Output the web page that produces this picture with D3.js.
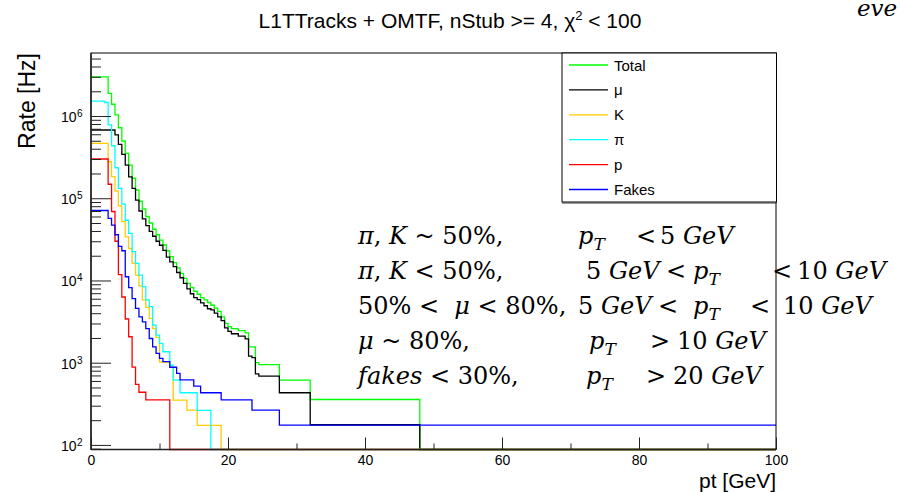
<!DOCTYPE html>
<html>
<head>
<meta charset="utf-8">
<script src="https://cdn.jsdelivr.net/npm/d3@7"></script>
<style>
  html, body { margin: 0; padding: 0; background: #fff; }
  svg { display: block; }
  text { font-family: "Liberation Sans", Arial, Helvetica, sans-serif; fill: #000; }
  .note { font-family: "DejaVu Serif", "Liberation Serif", serif; white-space: pre; }
</style>
</head>
<body>
<svg id="chart" width="901" height="492"></svg>
<script>
// ---- Rate vs pt threshold: lower bin edges (GeV) and rates (Hz) per category ----
const totalEdges = [0, 2.5, 3, 3.5, 4, 4.5, 5, 5.5, 6, 6.5, 7, 7.5, 8, 8.5, 9, 9.5, 10, 10.5, 11, 11.5,
  12, 12.5, 13, 13.5, 14, 14.5, 15, 15.5, 16, 16.5, 17, 17.5, 18, 18.5, 19, 19.5, 20, 20.5, 21.5, 22.5,
  23, 24, 24.5, 27.5, 32, 48];
const totalRates = [3.0e6, 1.89e6, 1.39e6, 1.03e6, 7.2e5, 4.97e5, 3.52e5, 2.53e5, 1.75e5, 1.26e5,
  9.2e4, 7.4e4, 6.0e4, 5.0e4, 4.2e4, 3.6e4, 3.1e4, 2.7e4, 2.3e4, 1.95e4,
  1.65e4, 1.42e4, 1.22e4, 1.06e4, 9.2e3, 8.2e3, 7.4e3, 6.8e3, 6.2e3, 5.8e3,
  5.4e3, 5.0e3, 4.6e3, 4.2e3, 3.6e3, 3.0e3, 2.75e3, 2.6e3, 2.45e3, 2.3e3,
  1.56e3, 1.0e3, 950, 614, 357, 0];

const muonEdges = [0, 3.5, 4, 4.5, 5, 5.5, 6, 6.5, 7, 7.5, 8, 8.5, 9, 9.5, 10, 10.5, 11, 11.5, 12, 12.5,
  13, 13.5, 14, 14.5, 15, 15.5, 16, 16.5, 17, 17.5, 18, 18.5, 19, 19.5, 20, 20.5, 21.5, 22.5, 23, 23.5,
  24, 24.5, 27.5, 32, 48];
const muonRates = [6.76e5, 5.9e5, 4.53e5, 3.42e5, 2.53e5, 1.82e5, 1.32e5, 9.5e4, 7.0e4, 5.6e4,
  4.65e4, 3.95e4, 3.45e4, 3.0e4, 2.68e4, 2.32e4, 1.92e4, 1.68e4, 1.47e4, 1.25e4,
  1.08e4, 9.2e3, 7.9e3, 6.9e3, 6.2e3, 5.85e3, 5.33e3, 4.93e3, 4.53e3, 4.4e3,
  4.0e3, 3.6e3, 3.25e3, 2.65e3, 2.4e3, 2.25e3, 2.1e3, 1.95e3, 1.2e3, 1.15e3,
  730, 687, 431, 176, 0];

const kaonEdges = [0, 2.5, 3, 3.5, 4, 4.5, 5, 5.5, 6, 6.5, 7, 7.5, 8, 8.5, 9, 9.5, 10, 11.5, 12, 14, 15.5, 19];
const kaonRates = [4.65e5, 2.78e5, 1.83e5, 1.22e5, 8.1e4, 5.2e4, 3.4e4, 2.45e4, 1.61e4, 1.16e4,
  8.6e3, 5.8e3, 4.7e3, 3.46e3, 2.6e3, 2.03e3, 1.02e3, 890, 351, 265, 173, 0];

const pionEdges = [0, 2, 2.5, 3, 3.5, 4, 4.5, 5, 5.5, 6, 6.5, 7, 7.5, 8, 8.5, 9, 9.5, 10, 10.5, 11.5,
  12, 13, 15.5, 17.5];
const pionRates = [1.52e6, 1.46e6, 7.8e5, 4.35e5, 2.35e5, 1.32e5, 8.5e4, 5.4e4, 3.74e4, 2.24e4,
  1.61e4, 1.16e4, 8.4e3, 5.8e3, 4.8e3, 2.86e3, 2.17e3, 1.72e3, 1.36e3, 933,
  614, 431, 263, 0];

const protonEdges = [0, 2.5, 3, 3.5, 4, 4.5, 5, 5.5, 6, 6.5, 7, 8, 11.5];
const protonRates = [3.0e5, 1.48e5, 6.9e4, 3.0e4, 1.18e4, 6.3e3, 3.4e3, 2.07e3, 885, 545, 437, 354, 0];

const fakeEdges = [0, 2.5, 3, 3.5, 4, 4.5, 5, 5.5, 6, 6.5, 7, 7.5, 8, 8.5, 9, 9.5, 10, 10.5, 11.5, 12.5,
  13, 15, 16, 19, 23.5, 27.5];
const fakeRates = [7.1e4, 5.7e4, 4.7e4, 3.6e4, 2.6e4, 2.3e4, 1.11e4, 8.2e3, 6.0e3, 4.57e3,
  3.6e3, 3.14e3, 2.6e3, 1.97e3, 1.56e3, 1.3e3, 1.13e3, 1.03e3, 880, 741,
  620, 519, 431, 354, 265, 174];

const legendLabels = ["Total", "μ", "K", "π", "p", "Fakes"];
const xMajorTicks = [0, 20, 40, 60, 80, 100];
const xMinorTicks = [10, 30, 50, 70, 90];
const yMajorExponents = [2, 3, 4, 5, 6];

const titleMain = "L1TTracks + OMTF, nStub >= 4, χ";
const titleSup = "2";
const titleTail = " < 100";
const xTitle = "pt [GeV]";
const yTitle = "Rate [Hz]";
const cornerText = "eve";

// Annotation: one row of text pieces per line ("_X" marks a subscript)
const noteText = [
  ["π, K ~ 50%,", "p_T", "<", "5 GeV"],
  ["π, K < 50%,", "5 GeV", "<", "p_T", "<", "10 GeV"],
  ["50% <  μ < 80%,", "5 GeV", "<", "p_T", "<", "10 GeV"],
  ["μ ~ 80%,", "p_T", ">", "10 GeV"],
  ["fakes < 30%,", "p_T", ">", "20 GeV"]
];

// ---- layout ----
const svg = d3.select("#chart");
const frame = { left: 91, right: 776, top: 53, bottom: 449.5 };
const xDomainMax = 100;

const x = d3.scaleLinear().domain([0, xDomainMax]).range([frame.left, frame.right]);
const y = d3.scaleLog().domain([88, 5.84e6]).range([frame.bottom, frame.top]).clamp(true);
const yPos = v => (v > 0 ? y(v) : frame.bottom);

const seriesColors = ["#00ff00", "#000000", "#ffcc00", "#00ffff", "#ff0000", "#0000ff"];
const series = [
  { edges: totalEdges, rates: totalRates },
  { edges: muonEdges, rates: muonRates },
  { edges: kaonEdges, rates: kaonRates },
  { edges: pionEdges, rates: pionRates },
  { edges: protonEdges, rates: protonRates },
  { edges: fakeEdges, rates: fakeRates }
].map((s, i) => ({ ...s, label: legendLabels[i], color: seriesColors[i] }));

// Title
const title = svg.append("text")
  .attr("x", 450).attr("y", 28)
  .attr("text-anchor", "middle")
  .style("font-size", "21px");
title.append("tspan").text(titleMain);
title.append("tspan").attr("dy", -8).style("font-size", "13px").text(titleSup);
title.append("tspan").attr("dy", 8).text(titleTail);

// Word cut by the right edge at the top corner
svg.append("text")
  .attr("class", "note")
  .attr("x", 857).attr("y", 16)
  .style("font-size", "23px").style("font-style", "italic")
  .text(cornerText);

// Step histograms (drawn in category order, later ones on top)
const stepLine = d3.line()
  .x(d => x(d[0]))
  .y(d => yPos(d[1]))
  .curve(d3.curveStepAfter);

const plot = svg.append("g");
series.forEach(s => {
  const pts = s.edges.map((e, i) => [e, s.rates[i]]);
  pts.push([xDomainMax, s.rates[s.rates.length - 1]]);
  plot.append("path")
    .attr("d", stepLine(pts))
    .attr("fill", "none")
    .attr("stroke", s.color)
    .attr("stroke-width", 1.3);
});

// Frame
svg.append("rect")
  .attr("x", frame.left).attr("y", frame.top)
  .attr("width", frame.right - frame.left)
  .attr("height", frame.bottom - frame.top)
  .attr("fill", "none").attr("stroke", "#000").attr("stroke-width", 1);

// X axis ticks (inward) and labels
svg.append("g").attr("transform", `translate(0,${frame.bottom})`)
  .call(d3.axisBottom(x).tickValues(xMajorTicks).tickSize(-12).tickPadding(6).tickFormat(d3.format("d")))
  .call(g => g.select(".domain").remove())
  .call(g => g.selectAll("line").attr("stroke", "#222"))
  .call(g => g.selectAll("text")
    .style("font-size", "14px").style("font-family", "'Liberation Sans', Arial, sans-serif").attr("fill", "#000"));
svg.append("g").attr("transform", `translate(0,${frame.bottom})`)
  .call(d3.axisBottom(x).tickValues(xMinorTicks).tickSize(-6).tickFormat(""))
  .call(g => g.select(".domain").remove())
  .call(g => g.selectAll("line").attr("stroke", "#222"));
svg.append("line")
  .attr("x1", frame.left).attr("x2", frame.right)
  .attr("y1", frame.bottom).attr("y2", frame.bottom)
  .attr("stroke", "#222").attr("stroke-width", 1.5);

// Y axis: decade ticks, minor ticks and 10^n labels
const yMajor = yMajorExponents.map(e => Math.pow(10, e));
const yMinor = [];
for (let e = 1; e <= 6; e++) {
  for (let m = 2; m <= 9; m++) {
    const v = m * Math.pow(10, e);
    if (v >= y.domain()[0] && v <= y.domain()[1]) yMinor.push(v);
  }
}
svg.append("g").attr("transform", `translate(${frame.left},0)`)
  .call(d3.axisLeft(y).tickValues(yMajor).tickSize(-20).tickFormat(""))
  .call(g => g.select(".domain").remove())
  .call(g => g.selectAll("line").attr("stroke", "#222"));
svg.append("g").attr("transform", `translate(${frame.left},0)`)
  .call(d3.axisLeft(y).tickValues(yMinor).tickSize(-10).tickFormat(""))
  .call(g => g.select(".domain").remove())
  .call(g => g.selectAll("line").attr("stroke", "#222"));
svg.append("line")
  .attr("x1", frame.left).attr("x2", frame.left)
  .attr("y1", frame.top).attr("y2", frame.bottom)
  .attr("stroke", "#222").attr("stroke-width", 1.5);

const yLabels = svg.append("g");
yMajorExponents.forEach(e => {
  const yy = y(Math.pow(10, e));
  yLabels.append("text")
    .attr("x", 76.5).attr("y", yy + 6)
    .attr("text-anchor", "end")
    .style("font-size", "14px")
    .text("10");
  yLabels.append("text")
    .attr("x", 77).attr("y", yy + 1)
    .style("font-size", "10px")
    .text(String(e));
});

// Axis titles
svg.append("text")
  .attr("x", frame.right).attr("y", 488)
  .attr("text-anchor", "end")
  .style("font-size", "21px")
  .text(xTitle);
svg.append("text")
  .attr("transform", `translate(35,${frame.top}) rotate(-90)`)
  .attr("text-anchor", "end")
  .style("font-size", "23px")
  .text(yTitle);

// Legend
const legend = { left: 562, right: 776.5, top: 53, bottom: 202, rowStart: 65, rowStep: 24.9 };
const lg = svg.append("g");
lg.append("rect")
  .attr("x", legend.left).attr("y", legend.top)
  .attr("width", legend.right - legend.left).attr("height", legend.bottom - legend.top)
  .attr("fill", "#fff").attr("stroke", "#000").attr("stroke-width", 1);
lg.append("line")
  .attr("x1", legend.left).attr("x2", legend.right)
  .attr("y1", legend.bottom + 1).attr("y2", legend.bottom + 1)
  .attr("stroke", "#333").attr("stroke-width", 1);
series.forEach((s, i) => {
  const cy = legend.rowStart + i * legend.rowStep;
  lg.append("line")
    .attr("x1", 569).attr("x2", 608)
    .attr("y1", cy).attr("y2", cy)
    .attr("stroke", s.color).attr("stroke-width", 1.3);
  lg.append("text")
    .attr("x", 614).attr("y", cy + 5.5)
    .style("font-size", "15px")
    .text(s.label);
});

// Annotation block in math-style serif text.
// Each piece is placed at its column; "end" pieces are right-aligned at that x.
const noteColumns = [
  [[358, "start"], [578, "start"], [636, "start"], [660, "start"]],
  [[358, "start"], [586, "start"], [666, "start"], [693, "start"], [772, "start"], [886, "end"]],
  [[358, "start"], [578, "start"], [658, "start"], [693, "start"], [750, "start"], [783, "start"]],
  [[358, "start"], [589, "start"], [650, "start"], [677, "start"]],
  [[358, "start"], [586, "start"], [646, "start"], [673, "start"]]
];
const noteBaselines = [244, 279, 314, 349, 384];
const isLetter = ch => /[A-Za-zπμ]/.test(ch);

function addMathText(x0, y0, anchor, str) {
  const t = svg.append("text")
    .attr("class", "note")
    .attr("x", x0).attr("y", y0)
    .attr("text-anchor", anchor)
    .style("font-size", "24px");
  let i = 0;
  while (i < str.length) {
    const ch = str[i];
    if (ch === "_") {
      t.append("tspan").attr("dy", 6).style("font-size", "17px").style("font-style", "italic").text(str[i + 1]);
      t.append("tspan").attr("dy", -6).text("");
      i += 2;
      continue;
    }
    let j = i;
    const italic = isLetter(ch);
    while (j < str.length && str[j] !== "_" && isLetter(str[j]) === italic) j++;
    t.append("tspan").style("font-style", italic ? "italic" : "normal").text(str.slice(i, j));
    i = j;
  }
}
noteText.forEach((row, r) => {
  row.forEach((piece, c) => {
    const [cx, anchor] = noteColumns[r][c];
    addMathText(cx, noteBaselines[r], anchor, piece);
  });
});
</script>
</body>
</html>
